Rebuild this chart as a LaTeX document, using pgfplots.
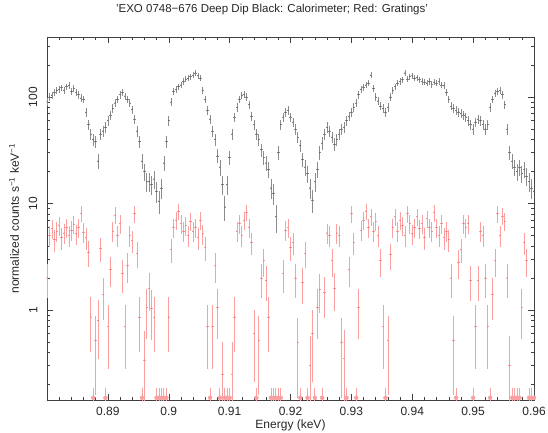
\documentclass[border=0pt]{standalone}
\usepackage{fontspec}
\setmainfont{Liberation Sans}
\usepackage{pgfplots}
\usepackage{pgfplotstable}
\pgfplotsset{compat=1.18}
\definecolor{calgray}{gray}{0.55}
\definecolor{caldot}{gray}{0.35}
\definecolor{gratred}{RGB}{250,160,160}
\definecolor{gratdot}{RGB}{240,110,110}
\pgfplotstableread{
x y e
0.8800 90 7.6
0.8804 100 8.0
0.8808 104 8.2
0.8812 110 8.4
0.8816 115 8.6
0.8820 118 8.7
0.8824 122 8.8
0.8828 116 8.6
0.8832 125 8.9
0.8836 128 9.1
0.8840 112 8.5
0.8844 120 8.8
0.8848 110 8.4
0.8852 105 8.2
0.8856 98 7.9
0.8860 95 7.8
0.8864 72 6.8
0.8868 55 5.9
0.8872 45 5.4
0.8876 40 5.1
0.8880 38 4.9
0.8884 25 4.0
0.8888 45 5.4
0.8892 48 5.5
0.8896 52 5.8
0.8900 60 6.2
0.8904 68 6.6
0.8908 78 7.1
0.8912 88 7.5
0.8916 95 7.8
0.8920 105 8.2
0.8924 110 8.4
0.8928 102 8.1
0.8932 95 7.8
0.8936 88 7.5
0.8940 76 7.0
0.8944 62 6.3
0.8948 48 5.5
0.8952 38 4.9
0.8956 25 4.0
0.8960 20 3.6
0.8964 16 3.2
0.8968 16 3.2
0.8972 15 3.1
0.8976 17 3.3
0.8980 13 2.9
0.8984 10.5 2.6
0.8988 14 3.0
0.8992 24 3.9
0.8996 38 4.9
0.9000 60 6.2
0.9004 90 7.6
0.9008 112 8.5
0.9012 118 8.7
0.9016 125 8.9
0.9020 130 9.1
0.9024 140 9.5
0.9028 148 9.7
0.9032 150 9.8
0.9036 155 10.0
0.9040 160 10.1
0.9044 168 10.4
0.9048 158 10.1
0.9052 150 9.8
0.9056 116 8.6
0.9060 95 7.8
0.9064 75 6.9
0.9068 62 6.3
0.9072 48 5.5
0.9076 40 5.1
0.9080 28 4.2
0.9084 22 3.8
0.9088 15 3.1
0.9092 9.3 2.4
0.9096 15 3.1
0.9100 27 4.2
0.9104 45 5.4
0.9108 65 6.4
0.9112 80 7.2
0.9116 95 7.8
0.9120 104 8.2
0.9124 106 8.2
0.9128 100 8.0
0.9132 85 7.4
0.9136 66 6.5
0.9140 55 5.9
0.9144 45 5.4
0.9148 40 5.1
0.9152 32 4.5
0.9156 27 4.2
0.9160 24 3.9
0.9164 21 3.7
0.9168 14 3.0
0.9172 12.5 2.8
0.9176 7.5 2.2
0.9180 30 4.4
0.9184 55 5.9
0.9188 65 6.4
0.9192 72 6.8
0.9196 75 6.9
0.9200 65 6.4
0.9204 58 6.1
0.9208 50 5.7
0.9212 42 5.2
0.9216 35 4.7
0.9220 26 4.1
0.9224 22 3.8
0.9228 19 3.5
0.9232 14 3.0
0.9236 10.8 2.6
0.9240 16 3.2
0.9244 21 3.7
0.9248 30 4.4
0.9252 37 4.9
0.9256 45 5.4
0.9260 52 5.8
0.9264 48 5.5
0.9268 42 5.2
0.9272 36 4.8
0.9276 40 5.1
0.9280 45 5.4
0.9284 50 5.7
0.9288 52 5.8
0.9292 60 6.2
0.9296 66 6.5
0.9300 72 6.8
0.9304 80 7.2
0.9308 88 7.5
0.9312 105 8.2
0.9316 118 8.7
0.9320 124 8.9
0.9324 130 9.1
0.9328 135 9.3
0.9332 160 10.1
0.9336 120 8.8
0.9340 100 8.0
0.9344 92 7.7
0.9348 82 7.2
0.9352 78 7.1
0.9356 72 6.8
0.9360 80 7.2
0.9364 100 8.0
0.9368 115 8.6
0.9372 125 8.9
0.9376 135 9.3
0.9380 140 9.5
0.9384 145 9.6
0.9388 168 10.4
0.9392 148 9.7
0.9396 155 10.0
0.9400 158 10.1
0.9404 150 9.8
0.9408 152 9.9
0.9412 145 9.6
0.9416 140 9.5
0.9420 138 9.4
0.9424 135 9.3
0.9428 140 9.5
0.9432 132 9.2
0.9436 138 9.4
0.9440 135 9.3
0.9444 140 9.5
0.9448 130 9.1
0.9452 128 9.1
0.9456 110 8.4
0.9460 95 7.8
0.9464 82 7.2
0.9468 78 7.1
0.9472 75 6.9
0.9476 72 6.8
0.9480 70 6.7
0.9484 68 6.6
0.9488 65 6.4
0.9492 60 6.2
0.9496 55 5.9
0.9500 50 5.7
0.9504 58 6.1
0.9508 62 6.3
0.9512 60 6.2
0.9516 55 5.9
0.9520 50 5.7
0.9524 55 5.9
0.9528 80 7.2
0.9532 95 7.8
0.9536 108 8.3
0.9540 112 8.5
0.9544 115 8.6
0.9548 105 8.2
0.9552 85 7.4
0.9556 50 5.7
0.9560 30 4.4
0.9564 25 4.0
0.9568 22 3.8
0.9572 20 3.6
0.9576 22 3.8
0.9580 19 3.5
0.9584 21 3.7
0.9588 18 3.4
0.9592 16 3.2
0.9596 14 3.0
0.9600 13 2.9
}\calo
\pgfplotstableread{
x y ep em
0.8800 2.0 0.71 0.71
0.8804 5.0 1.12 1.12
0.8808 5.8 1.2 1.2
0.8812 4.6 1.07 1.07
0.8816 5.5 1.17 1.17
0.8820 6.2 1.24 1.24
0.8824 4.8 1.1 1.1
0.8828 5.3 1.15 1.15
0.8832 6.0 1.22 1.22
0.8836 5.0 1.12 1.12
0.8840 5.6 1.18 1.18
0.8844 6.4 1.26 1.26
0.8848 5.2 1.14 1.14
0.8852 6.0 1.22 1.22
0.8856 8.1 1.42 1.42
0.8860 5.4 1.16 1.16
0.8864 4.8 1.1 1.1
0.8868 3.5 0.94 0.94
0.8872 0.86 0.46 0.46
0.8880 0.52 0.36 0.36
0.8884 0.8 0.45 0.45
0.8888 3.8 0.97 0.97
0.8892 1.4 0.59 0.59
0.8900 0.7 0.42 0.42
0.8904 2.4 0.77 0.77
0.8908 5.5 1.17 1.17
0.8912 7.8 1.4 1.4
0.8916 5.0 1.12 1.12
0.8920 6.5 1.27 1.27
0.8924 2.2 0.74 0.74
0.8928 0.7 0.42 0.42
0.8932 2.6 0.81 0.81
0.8936 5.0 1.12 1.12
0.8940 4.5 1.06 1.06
0.8944 8.0 1.41 1.41
0.8948 3.4 0.92 0.92
0.8952 0.86 0.46 0.46
0.8960 0.34 0.29 0.27
0.8964 1.05 0.51 0.51
0.8968 1.6 0.63 0.63
0.8972 1.03 0.51 0.51
0.8976 0.86 0.46 0.46
0.9000 0.86 0.46 0.46
0.9004 3.7 0.96 0.96
0.9008 6.0 1.22 1.22
0.9012 7.0 1.32 1.32
0.9016 8.5 1.46 1.46
0.9020 6.5 1.27 1.27
0.9024 5.5 1.17 1.17
0.9028 6.2 1.24 1.24
0.9032 5.0 1.12 1.12
0.9036 6.8 1.3 1.3
0.9040 5.5 1.17 1.17
0.9044 6.0 1.22 1.22
0.9048 4.8 1.1 1.1
0.9052 7.0 1.32 1.32
0.9056 5.2 1.14 1.14
0.9060 3.9 0.99 0.99
0.9064 0.7 0.42 0.42
0.9072 0.7 0.42 0.42
0.9076 2.6 0.81 0.81
0.9080 1.05 0.51 0.51
0.9088 0.25 0.25 0.2
0.9104 0.25 0.25 0.2
0.9108 0.86 0.46 0.46
0.9112 5.5 1.17 1.17
0.9116 6.5 1.27 1.27
0.9120 5.0 1.12 1.12
0.9124 7.0 1.32 1.32
0.9128 8.3 1.44 1.44
0.9132 6.0 1.22 1.22
0.9136 4.3 1.04 1.04
0.9140 0.6 0.39 0.39
0.9148 0.52 0.36 0.36
0.9152 2.0 0.71 0.71
0.9156 2.9 0.85 0.85
0.9160 1.9 0.69 0.69
0.9164 0.86 0.46 0.46
0.9188 2.2 0.74 0.74
0.9192 5.6 1.18 1.18
0.9196 6.0 1.22 1.22
0.9200 3.9 0.99 0.99
0.9204 4.3 1.04 1.04
0.9208 2.0 0.71 0.71
0.9212 0.5 0.35 0.35
0.9220 1.8 0.67 0.67
0.9224 3.4 0.92 0.92
0.9232 0.3 0.27 0.24
0.9236 0.6 0.39 0.39
0.9244 1.05 0.51 0.51
0.9248 1.55 0.62 0.62
0.9256 1.45 0.6 0.6
0.9260 5.3 1.15 1.15
0.9264 5.0 1.12 1.12
0.9268 2.9 0.85 0.85
0.9272 1.6 0.63 0.63
0.9276 5.3 1.15 1.15
0.9280 5.0 1.12 1.12
0.9284 0.5 0.35 0.35
0.9288 0.35 0.3 0.28
0.9296 2.4 0.77 0.77
0.9300 8.0 1.41 1.41
0.9304 4.3 1.04 1.04
0.9312 1.05 0.51 0.51
0.9316 5.6 1.18 1.18
0.9320 7.0 1.32 1.32
0.9324 8.5 1.46 1.46
0.9328 6.0 1.22 1.22
0.9332 7.5 1.37 1.37
0.9336 5.5 1.17 1.17
0.9340 6.8 1.3 1.3
0.9344 5.0 1.12 1.12
0.9348 2.9 0.85 0.85
0.9352 0.7 0.42 0.42
0.9360 0.52 0.36 0.36
0.9364 3.3 0.91 0.91
0.9368 6.0 1.22 1.22
0.9372 7.5 1.37 1.37
0.9376 5.5 1.17 1.17
0.9380 7.0 1.32 1.32
0.9384 6.2 1.24 1.24
0.9388 5.0 1.12 1.12
0.9392 8.0 1.41 1.41
0.9396 6.5 1.27 1.27
0.9400 5.2 1.14 1.14
0.9404 6.0 1.22 1.22
0.9408 7.5 1.37 1.37
0.9412 5.8 1.2 1.2
0.9416 6.5 1.27 1.27
0.9420 4.8 1.1 1.1
0.9424 7.2 1.34 1.34
0.9428 6.0 1.22 1.22
0.9432 5.5 1.17 1.17
0.9436 8.2 1.43 1.43
0.9440 6.0 1.22 1.22
0.9444 5.0 1.12 1.12
0.9448 6.5 1.27 1.27
0.9452 4.8 1.1 1.1
0.9456 5.5 1.17 1.17
0.9460 4.6 1.07 1.07
0.9464 2.0 0.71 0.71
0.9468 0.52 0.36 0.36
0.9476 2.8 0.84 0.84
0.9480 3.7 0.96 0.96
0.9484 6.5 1.27 1.27
0.9488 6.0 1.22 1.22
0.9492 6.5 1.27 1.27
0.9496 1.9 0.69 0.69
0.9504 0.7 0.42 0.42
0.9508 1.9 0.69 0.69
0.9512 5.5 1.17 1.17
0.9516 5.0 1.12 1.12
0.9520 2.0 0.71 0.71
0.9524 0.7 0.42 0.42
0.9532 1.4 0.59 0.59
0.9536 2.9 0.85 0.85
0.9540 8.0 1.41 1.41
0.9544 5.0 1.12 1.12
0.9548 7.6 1.38 1.38
0.9552 6.8 1.3 1.3
0.9556 2.0 0.71 0.71
0.9560 0.3 0.27 0.24
0.9580 1.05 0.51 0.51
0.9584 4.3 1.04 1.04
0.9588 2.9 0.85 0.85
}\grat
% grating bins with no counts: drawn at the bottom edge, upper bar only
\pgfplotstableread{
x y ep em
0.8876 0.15 0.035 0.05
0.8896 0.15 0.035 0.05
0.8956 0.15 0.035 0.05
0.8980 0.15 0.035 0.05
0.8984 0.15 0.035 0.05
0.8988 0.15 0.035 0.05
0.8992 0.15 0.035 0.05
0.8996 0.15 0.035 0.05
0.9068 0.15 0.035 0.05
0.9084 0.15 0.035 0.05
0.9092 0.15 0.035 0.05
0.9096 0.15 0.035 0.05
0.9100 0.15 0.035 0.05
0.9144 0.15 0.035 0.05
0.9168 0.15 0.035 0.05
0.9172 0.15 0.035 0.05
0.9176 0.15 0.035 0.05
0.9180 0.15 0.035 0.05
0.9184 0.15 0.035 0.05
0.9216 0.15 0.035 0.05
0.9228 0.15 0.035 0.05
0.9240 0.15 0.035 0.05
0.9252 0.15 0.035 0.05
0.9292 0.15 0.035 0.05
0.9308 0.15 0.035 0.05
0.9356 0.15 0.035 0.05
0.9472 0.15 0.035 0.05
0.9500 0.15 0.035 0.05
0.9528 0.15 0.035 0.05
0.9564 0.15 0.035 0.05
0.9568 0.15 0.035 0.05
0.9572 0.15 0.035 0.05
0.9576 0.15 0.035 0.05
0.9592 0.15 0.035 0.05
0.9596 0.15 0.035 0.05
0.9600 0.15 0.035 0.05
}\gratzero
\begin{document}
\begin{tikzpicture}[x=1pt,y=1pt]
\path[use as bounding box] (-47,-33) rectangle (501,400);
\begin{axis}[
  at={(0pt,0pt)}, anchor=south west,
  scale only axis, width=487pt, height=363pt,
  xmin=0.88, xmax=0.96,
  ymode=log, ymin=0.143, ymax=366,
  xtick={0.89,0.90,0.91,0.92,0.93,0.94,0.95,0.96},
  xticklabels={0.89,0.9,0.91,0.92,0.93,0.94,0.95,0.96},
  minor xtick={0.882,0.884,0.886,0.888,0.892,0.894,0.896,0.898,0.902,0.904,0.906,0.908,0.912,0.914,0.916,0.918,0.922,0.924,0.926,0.928,0.932,0.934,0.936,0.938,0.942,0.944,0.946,0.948,0.952,0.954,0.956,0.958},
  ytick={1,10,100},
  yticklabels={1,10,100},
  minor ytick={0.2,0.3,0.4,0.5,0.6,0.7,0.8,0.9,2,3,4,5,6,7,8,9,20,30,40,50,60,70,80,90,200,300},
  tick align=inside, tick pos=both,
  major tick length=6pt, minor tick length=3pt,
  every tick/.style={black!75, line width=0.5pt},
  every minor tick/.style={black!75, line width=0.5pt},
  axis line style={black!75, line width=0.6pt},
  /pgf/number format/assume math mode=true,
  tick label style={font=\fontsize{12}{14}\selectfont, text=black!85},
  xticklabel style={anchor=north, inner sep=0pt, yshift=-6.5pt},
  yticklabel style={xshift=-9.5pt, rotate=90, anchor=south, inner sep=0pt},
  xlabel={Energy (keV)},
  ylabel={normalized counts s\textsuperscript{−1} keV\textsuperscript{−1}},
  label style={font=\fontsize{12}{14}\selectfont, text=black!85},
  xlabel style={at={(axis description cs:0.5,-0.0785)}, anchor=base},
  ylabel style={at={(axis description cs:-0.0575,0.5)}, anchor=base},
  title={'EXO 0748−676 Deep Dip Black: Calorimeter; Red: Gratings'},
  title style={at={(axis description cs:0.462,1.0496)}, anchor=base, font=\fontsize{11.5}{13}\selectfont, text=black!85},
  clip=true,
]
\addplot[only marks, mark=*, mark size=0.25pt, caldot,
  error bars/.cd, y dir=both, y explicit, x dir=both, x fixed=0.0002,
  error mark=none, error bar style={line width=0.7pt, calgray}]
  table[x=x, y=y, y error=e] {\calo};
\addplot[only marks, mark=*, mark size=0.25pt, gratdot,
  error bars/.cd, y dir=both, y explicit, x dir=both, x fixed=0.0002,
  error mark=none, error bar style={line width=0.7pt, gratred}]
  table[x=x, y=y, y error plus=ep, y error minus=em] {\grat};
\addplot[only marks, mark=none, gratred,
  error bars/.cd, y dir=both, y explicit, x dir=both, x fixed=0.0002,
  error mark=none, error bar style={line width=0.8pt, gratred}]
  table[x=x, y=y, y error plus=ep, y error minus=em] {\gratzero};
\end{axis}
\end{tikzpicture}
\end{document}
